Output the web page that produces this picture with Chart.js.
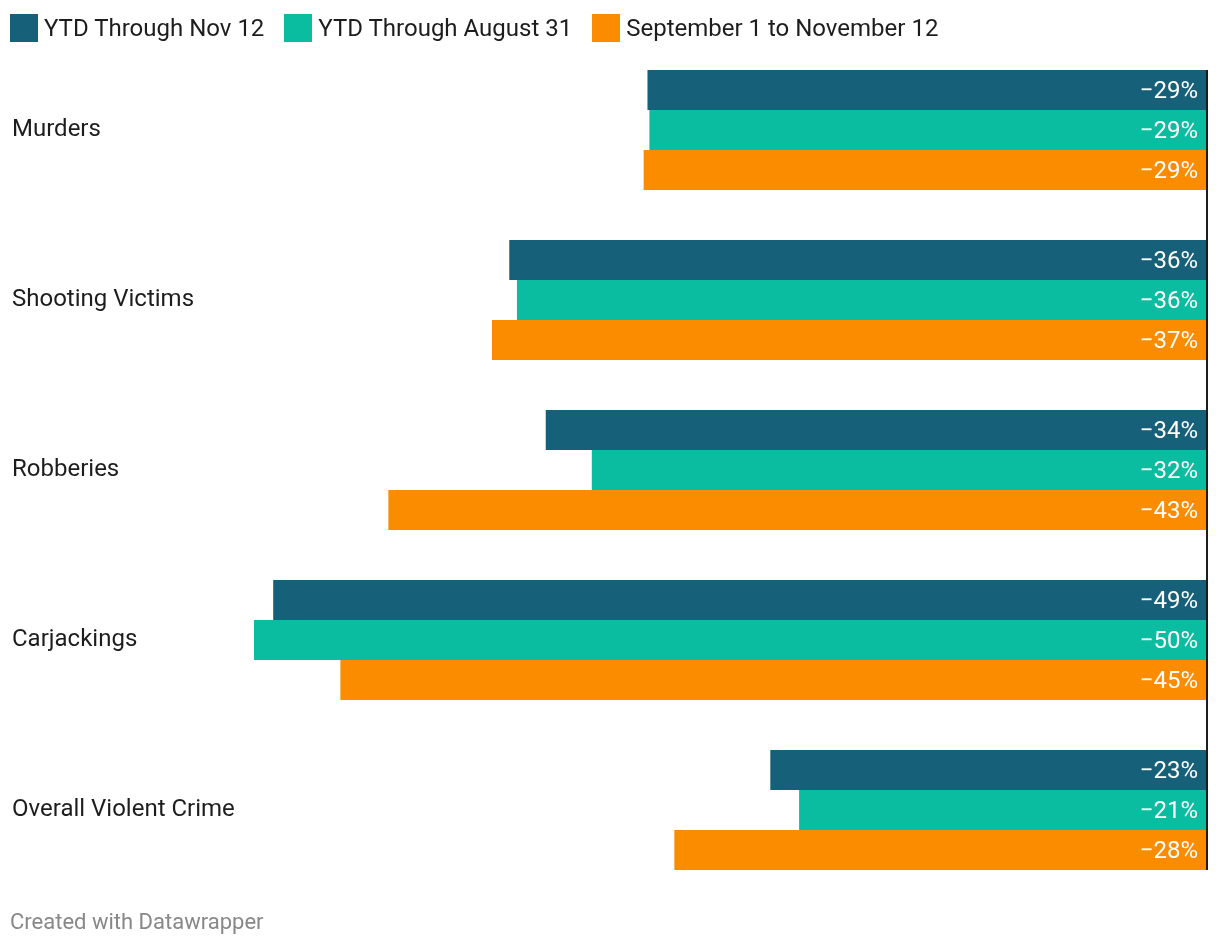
<!DOCTYPE html>
<html>
<head>
<meta charset="utf-8">
<script src="https://cdn.jsdelivr.net/npm/chart.js@4.4.1/dist/chart.umd.min.js"></script>
<style>
  html, body { margin: 0; padding: 0; background: #fff; }
  body { width: 1220px; height: 946px; position: relative; overflow: hidden; font-family: Roboto, "Noto Sans", sans-serif; }
  #wrap { position: absolute; left: 0; top: 0; width: 1220px; height: 946px; }
  #legend { position: absolute; left: 10px; top: 14px; display: flex; align-items: center; font-size: 24px; color: #1d1d1d; }
  .item { display: flex; align-items: center; margin-right: 20px; }
  .box { width: 28px; height: 28px; margin-right: 6px; }
  #footer { position: absolute; left: 10px; top: 907px; font-size: 22px; line-height: 30px; color: #888; }
</style>
</head>
<body>
<div id="wrap"><canvas id="crimeChart"></canvas></div>
<div id="legend"></div>
<div id="footer">Created with Datawrapper</div>
<script>
  // ----- DATA -----
  const categories = ['Murders', 'Shooting Victims', 'Robberies', 'Carjackings', 'Overall Violent Crime'];
  const seriesNames = ['YTD Through Nov 12', 'YTD Through August 31', 'September 1 to November 12'];
  const ytdNov12 = [-29.1, -36.3, -34.4, -48.6, -22.7];
  const ytdAug31 = [-29.0, -35.9, -32.0, -49.6, -21.2];
  const sepToNov = [-29.3, -37.2, -42.6, -45.1, -27.7];
  const colors = ['#17607a', '#0bbda0', '#fb8c00'];

  const allValues = ytdNov12.concat(ytdAug31, sepToNov);
  const fmt = v => (v < 0 ? '\u2212' : '') + Math.round(Math.abs(v)) + '%';

  // ----- LEGEND (html) -----
  const legend = document.getElementById('legend');
  seriesNames.forEach((name, i) => {
    const it = document.createElement('div');
    it.className = 'item';
    it.innerHTML = '<span class="box" style="background:' + colors[i] + '"></span><span>' + name + '</span>';
    legend.appendChild(it);
  });

  // zero line + value labels
  const barExtras = {
    id: 'barExtras',
    afterDatasetsDraw(chart) {
      const c = chart.ctx;
      const x0 = chart.scales.x.getPixelForValue(0);
      c.save();
      c.font = '24px Roboto';
      c.fillStyle = '#fff';
      c.textAlign = 'right';
      c.textBaseline = 'middle';
      let top = Infinity, bottom = -Infinity;
      chart.data.datasets.forEach((ds, di) => {
        chart.getDatasetMeta(di).data.forEach((bar, i) => {
          top = Math.min(top, bar.y - bar.height / 2);
          bottom = Math.max(bottom, bar.y + bar.height / 2);
          c.fillText(fmt(ds.data[i]), bar.base - 8, bar.y + 2);
        });
      });
      c.fillStyle = '#1d1d1d';
      c.fillRect(x0, top, 2, bottom - top);
      c.restore();
    }
  };

  // ----- CHART (horizontal bars) -----
  const ctx = document.getElementById('crimeChart').getContext('2d');
  new Chart(ctx, {
    type: 'bar',
    data: {
      labels: categories,
      datasets: [ytdNov12, ytdAug31, sepToNov].map((d, i) => ({
        label: seriesNames[i],
        data: d,
        backgroundColor: colors[i],
        borderWidth: 0,
        barPercentage: 1,
        categoryPercentage: 120 / 170
      }))
    },
    options: {
      indexAxis: 'y',
      responsive: true,
      maintainAspectRatio: false,
      animation: false,
      layout: { padding: { top: 45, bottom: 51, left: 12, right: 14 } },
      plugins: {
        legend: { display: false },
        tooltip: { enabled: false }
      },
      scales: {
        x: {
          display: false,
          min: Math.min(...allValues),
          max: 0
        },
        y: {
          grid: { display: false },
          border: { display: false },
          afterFit: s => { s.width = 242; },
          ticks: {
            crossAlign: 'far',
            color: '#1d1d1d',
            font: { family: 'Roboto', size: 24 }
          }
        }
      }
    },
    plugins: [barExtras]
  });
</script>
</body>
</html>
